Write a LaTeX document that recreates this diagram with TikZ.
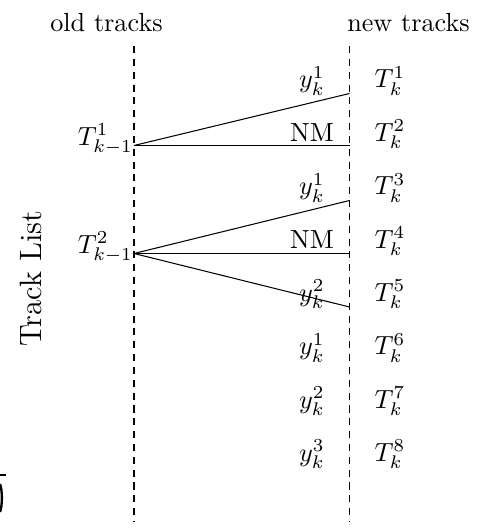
\documentclass[tikz,border=0pt]{standalone}
\begin{document}
\begin{tikzpicture}[x=0.3817pt,y=-0.3817pt,
  lbl/.style={anchor=base, inner sep=0pt},
  oldlbl/.style={anchor=base east, inner sep=0pt},
  track/.style={dash pattern=on 2.7pt off 2.2pt, line width=0.4pt},
  branch/.style={line width=0.4pt}]
\useasboundingbox (0,0) rectangle (488,529);
% headers
\node[lbl] (old) at (106.5,32) {old tracks};
\node[lbl] (new) at (408.5,32) {new tracks};
% dashed track lines
\coordinate (ot) at (134,46);
\coordinate (ob) at (134,522);
\coordinate (nt) at (349.5,46);
\coordinate (nb) at (349.5,522);
\draw[track] (ot) -- (ob);
\draw[track] (nt) -- (nb);
% side label
\node[rotate=90, inner sep=0pt, font=\fontsize{11.8}{14}\selectfont] (tl) at (30.5,278.5) {Track List};
% new tracks and measurement labels
\foreach \i/\m in {1/{$y^1_k$},2/{NM},3/{$y^1_k$},4/{NM},5/{$y^2_k$},6/{$y^1_k$},7/{$y^2_k$},8/{$y^3_k$}}{
  \pgfmathsetmacro{\b}{88+53.35*(\i-1)}
  \node[lbl] (T\i) at (390,\b) {$T^{\i}_k$};
  \node[lbl] (m\i) at (312,\b) {\m};
}
% old tracks
\node[oldlbl] (o1) at (133.5,145.5) {$T^1_{k-1}$};
\node[oldlbl] (o2) at (133.5,253.5) {$T^2_{k-1}$};
\coordinate (j1) at (134,145.5);
\coordinate (j2) at (134,253.5);
\coordinate (e1) at (349.5,93.5);
\coordinate (e2) at (349.5,145.5);
\coordinate (e3) at (349.5,200.5);
\coordinate (e4) at (349.5,253.5);
\coordinate (e5) at (349.5,307);
\draw[branch] (j1) -- (e1);
\draw[branch] (j1) -- (e2);
\draw[branch] (j2) -- (e3);
\draw[branch] (j2) -- (e4);
\draw[branch] (j2) -- (e5);
% clipped mark at the lower left edge
\coordinate (k1) at (0,475);
\coordinate (k2) at (6,475);
\draw[line width=0.6pt] (k1) -- (k2);
\coordinate (c1) at (0,484);
\coordinate (c2) at (0,512);
\draw[line width=0.9pt] (c1) .. controls (2.5,490) and (2.5,506) .. (c2);
\end{tikzpicture}
\end{document}
